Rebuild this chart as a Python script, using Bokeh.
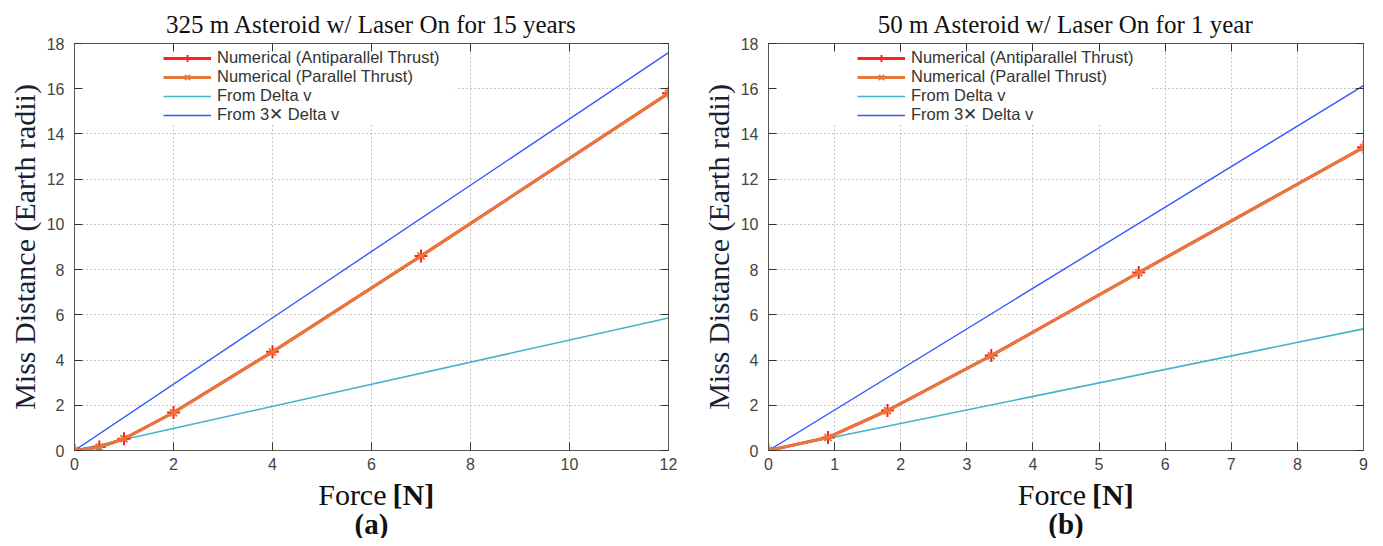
from bokeh.plotting import figure
from bokeh.layouts import row, column
from bokeh.models import Label, LinearAxis, BoxAnnotation, FixedTicker, Range1d
from bokeh.embed import file_html
from bokeh.resources import INLINE

# ---------------- data: panel (a) ----------------
a_title = "325 m Asteroid w/ Laser On for 15 years"
a_tag = "(a)"
a_force = [0, 0.5, 1, 2, 4, 7, 12]
a_anti = [0, 0.15, 0.52, 1.68, 4.37, 8.6, 15.8]
a_par = [0, 0.14, 0.52, 1.67, 4.36, 8.6, 15.8]
a_dv_force = [0, 12]
a_dv = [0, 5.86]
a_dv3 = [0, 17.6]
a_xticks = [0, 2, 4, 6, 8, 10, 12]

# ---------------- data: panel (b) ----------------
b_title = "50 m Asteroid w/ Laser On for 1 year"
b_tag = "(b)"
b_force = [0, 0.9, 1.8, 3.37, 5.6, 9]
b_anti = [0, 0.58, 1.77, 4.2, 7.87, 13.41]
b_par = [0, 0.57, 1.76, 4.19, 7.86, 13.4]
b_dv_force = [0, 9]
b_dv = [0, 5.38]
b_dv3 = [0, 16.14]
b_xticks = [0, 1, 2, 3, 4, 5, 6, 7, 8, 9]

y_ticks = [0, 2, 4, 6, 8, 10, 12, 14, 16, 18]
y_max = 18

x_label_main = "Force"
x_label_unit = "[N]"
y_label = "Miss Distance (Earth radii)"

leg_anti = "Numerical (Antiparallel Thrust)"
leg_par = "Numerical (Parallel Thrust)"
leg_dv = "From Delta v"
leg_dv3 = "From 3\u2715 Delta v"

C_ANTI = "#ff2020"
C_PAR = "#e8773c"
C_DV = "#42b3cb"
C_DV3 = "#3557ff"

SANS = "Liberation Sans"
SERIF = "Liberation Serif"


def style_axis(ax, labels=True):
    ax.axis_line_color = "#555555"
    ax.major_tick_in = 8
    ax.major_tick_out = 0
    ax.minor_tick_in = 0
    ax.minor_tick_out = 0
    ax.major_tick_line_color = "#333333"
    if labels:
        ax.major_label_text_font = SANS
        ax.major_label_text_font_size = "16px"
        ax.major_label_text_color = "#444444"
    else:
        ax.major_label_text_font_size = "0px"
        ax.major_label_standoff = 0


def panel(title, tag, force, anti, par, dv_force, dv, dv3, xticks, width,
          mb_left, mb_right, box_right, xlab_off):
    xmax = xticks[-1]
    p = figure(width=width, height=476, output_backend="svg", toolbar_location=None,
               x_range=Range1d(0, xmax), y_range=Range1d(0, y_max),
               min_border_left=mb_left, min_border_right=mb_right,
               min_border_top=43, min_border_bottom=26)
    p.outline_line_color = "#555555"
    p.background_fill_color = "white"
    p.border_fill_color = "white"

    p.title.text = title
    p.title.align = "center"
    p.title.text_font = SERIF
    p.title.text_font_size = "25px"
    p.title.text_font_style = "normal"
    p.title.text_color = "#111111"
    p.title.standoff = 11

    xt = FixedTicker(ticks=xticks)
    yt = FixedTicker(ticks=y_ticks)
    p.xaxis.ticker = xt
    p.yaxis.ticker = yt
    p.xgrid.ticker = xt
    p.ygrid.ticker = yt
    for g in (p.xgrid[0], p.ygrid[0]):
        g.grid_line_color = "#8c8c8c"
        g.grid_line_dash = "1 3"
        g.grid_line_width = 1

    style_axis(p.xaxis[0])
    style_axis(p.yaxis[0])
    p.xaxis.major_label_standoff = 7
    p.yaxis.major_label_standoff = 10
    p.yaxis.axis_label = y_label
    p.yaxis.axis_label_text_font = SERIF
    p.yaxis.axis_label_text_font_size = "30px"
    p.yaxis.axis_label_text_font_style = "normal"
    p.yaxis.axis_label_text_color = "#1a1f33"
    p.yaxis.axis_label_standoff = 3

    top = LinearAxis(ticker=xt)
    style_axis(top, labels=False)
    p.add_layout(top, "above")
    right = LinearAxis(ticker=yt)
    style_axis(right, labels=False)
    p.add_layout(right, "right")

    # white key area (hides grid behind the key, as in the original)
    p.add_layout(BoxAnnotation(left=0, right=box_right, top=y_max, bottom=14.4,
                               fill_color="white", fill_alpha=1.0, line_alpha=0,
                               level="underlay"))

    p.line(dv_force, dv, color=C_DV, line_width=1.6, legend_label=leg_dv)
    p.line(dv_force, dv3, color=C_DV3, line_width=1.4, legend_label=leg_dv3)
    p.line(force, anti, color=C_ANTI, line_width=3, legend_label=leg_anti)
    p.scatter(force, anti, marker="cross", size=13, line_width=2, color=C_ANTI,
              legend_label=leg_anti)
    p.line(force, par, color=C_PAR, line_width=3, legend_label=leg_par)
    p.scatter(force, par, marker="x", size=10, line_width=2, color=C_PAR,
              legend_label=leg_par)

    lg = p.legend[0]
    items = {it.label.value: it for it in lg.items}
    lg.items = [items[leg_anti], items[leg_par], items[leg_dv], items[leg_dv3]]
    lg.location = (85, 322)
    lg.padding = 4
    lg.margin = 0
    lg.spacing = 0
    lg.label_height = 18
    lg.glyph_height = 18
    lg.glyph_width = 48
    lg.label_standoff = 6
    lg.label_text_font = SANS
    lg.label_text_font_size = "16.5px"
    lg.label_text_line_height = 1.0
    lg.label_text_color = "#333333"
    lg.background_fill_alpha = 0
    lg.border_line_alpha = 0

    # caption strip below the plot: "Force [N]" and the panel tag
    cap_h = 62
    c = figure(width=width, height=cap_h, output_backend="svg", toolbar_location=None,
               x_range=Range1d(0, xmax), y_range=Range1d(0, cap_h),
               min_border_left=mb_left, min_border_right=mb_right,
               min_border_top=0, min_border_bottom=0,
               x_axis_location=None, y_axis_location=None)
    c.grid.visible = False
    c.outline_line_color = None
    c.background_fill_color = "white"
    c.border_fill_color = "white"
    xmid = xmax / 2
    c.add_layout(Label(x=xmid, y=cap_h - 18, x_offset=xlab_off, text=x_label_main,
                       text_align="right", text_baseline="middle", text_font=SERIF,
                       text_font_size="30px", text_color="#111111"))
    c.add_layout(Label(x=xmid, y=cap_h - 18, x_offset=xlab_off + 6, text=x_label_unit,
                       text_align="left", text_baseline="middle", text_font=SERIF,
                       text_font_size="30px", text_font_style="bold",
                       text_color="#111111"))
    c.add_layout(Label(x=xmid, y=15, text=tag, text_align="center",
                       text_baseline="middle", text_font=SERIF, text_font_size="29px",
                       text_font_style="bold", text_color="#111111"))
    return column(p, c, spacing=0)


p1 = panel(a_title, a_tag, a_force, a_anti, a_par, a_dv_force, a_dv, a_dv3,
           a_xticks, 694, 74, 26, 7.7, 15)
p2 = panel(b_title, b_tag, b_force, b_anti, b_par, b_dv_force, b_dv, b_dv3,
           b_xticks, 681, 74, 12, 5.78, 20)

layout = row(p1, p2, spacing=0)
open("out.html", "w").write(file_html(layout, INLINE))
